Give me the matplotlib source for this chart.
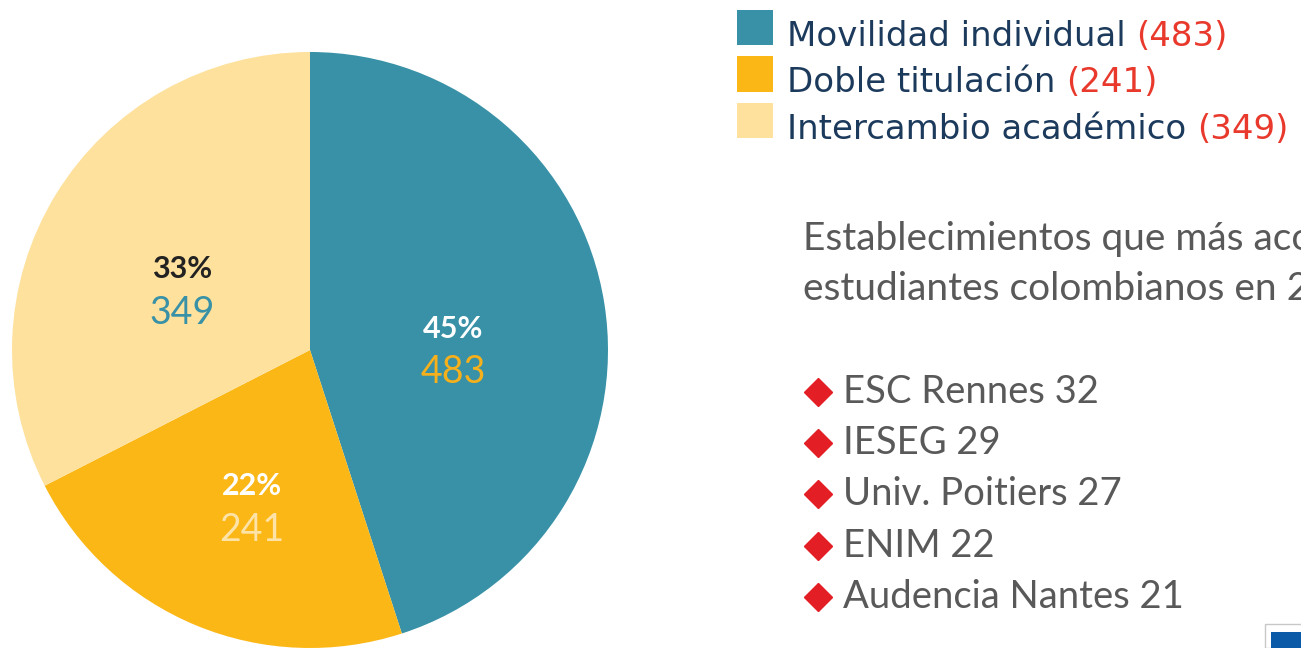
import matplotlib.pyplot as plt
from matplotlib.patches import Rectangle
from matplotlib.lines import Line2D

W, H = 1301, 648

# data
categorias = ['Movilidad individual', 'Doble titulación', 'Intercambio académico']
valores = [483, 241, 349]
colores = ['#3891a6', '#fbb715', '#fee19c']
establecimientos = ['ESC Rennes', 'IESEG', 'Univ. Poitiers', 'ENIM', 'Audencia Nantes']
acogidos = [32, 29, 27, 22, 21]

# label styles per wedge: (pct color, value color)
pct_colores = ['#ffffff', '#ffffff', '#222222']
num_colores = ['#f5b01c', '#fde3a8', '#3891a6']
# label centres in pie units
label_pos = [(0.48, 0.0), (-0.195, -0.53), (-0.43, 0.20)]


def fx(x):
    return x / W


def fy(y):
    return 1 - y / H


fig = plt.figure(figsize=(W / 100, H / 100), dpi=100)

ax = fig.add_axes([fx(12), fy(648), 596 / W, 596 / H])
ax.pie(valores, colors=colores, startangle=90, counterclock=False, radius=1,
       wedgeprops=dict(linewidth=0))
ax.set_xlim(-1, 1)
ax.set_ylim(-1, 1)
ax.set_aspect('equal')
ax.axis('off')

total = sum(valores)
for v, (lx, ly), pc, nc in zip(valores, label_pos, pct_colores, num_colores):
    ax.text(lx, ly + 0.072, f'{round(v / total * 100)}%', ha='center', va='center',
            color=pc, fontsize=22, fontweight='bold', family='Lato')
    ax.text(lx, ly - 0.075, str(v), ha='center', va='center',
            color=nc, fontsize=27, family='Lato')

# legend
fig.canvas.draw()
renderer = fig.canvas.get_renderer()
for i, (cat, v, c) in enumerate(zip(categorias, valores, colores)):
    top = 10 + i * 46.5
    fig.add_artist(Rectangle((fx(737), fy(top + 35)), 36 / W, 35 / H,
                             transform=fig.transFigure, color=c, linewidth=0))
    t = fig.text(fx(787), fy(top + 36), cat + ' ', ha='left', va='baseline',
                 color='#1c3a5c', fontsize=24.5, family='DejaVu Sans')
    bb = t.get_window_extent(renderer)
    fig.text(bb.x1 / W, fy(top + 36), f'({v})', ha='left', va='baseline',
             color='#e8392c', fontsize=24.5, family='DejaVu Sans')

# right text (cut at the right edge, as in the original slide)
fig.text(fx(803), fy(250), 'Establecimientos que más acogieron', ha='left', va='baseline',
         color='#595959', fontsize=28, family='Lato')
fig.text(fx(803), fy(300), 'estudiantes colombianos en 2019', ha='left', va='baseline',
         color='#595959', fontsize=28, family='Lato')

for i, (nombre, n) in enumerate(zip(establecimientos, acogidos)):
    y = 403 + i * 51.2
    fig.add_artist(Line2D([fx(818)], [fy(y - 11)], transform=fig.transFigure,
                          marker='D', markersize=14, color='#e31e24', linestyle='none'))
    fig.text(fx(843), fy(y), f'{nombre} {n}', ha='left', va='baseline',
             color='#595959', fontsize=27.5, family='Lato')

# small corner box
fig.add_artist(Rectangle((fx(1265), fy(648)), 40 / W, 24 / H, transform=fig.transFigure,
                         facecolor='white', edgecolor='#c8c8c8', linewidth=1))
fig.add_artist(Rectangle((fx(1271), fy(648)), 34 / W, 16 / H, transform=fig.transFigure,
                         color='#0a5aa8', linewidth=0))

fig.savefig('out.png', dpi=100)
